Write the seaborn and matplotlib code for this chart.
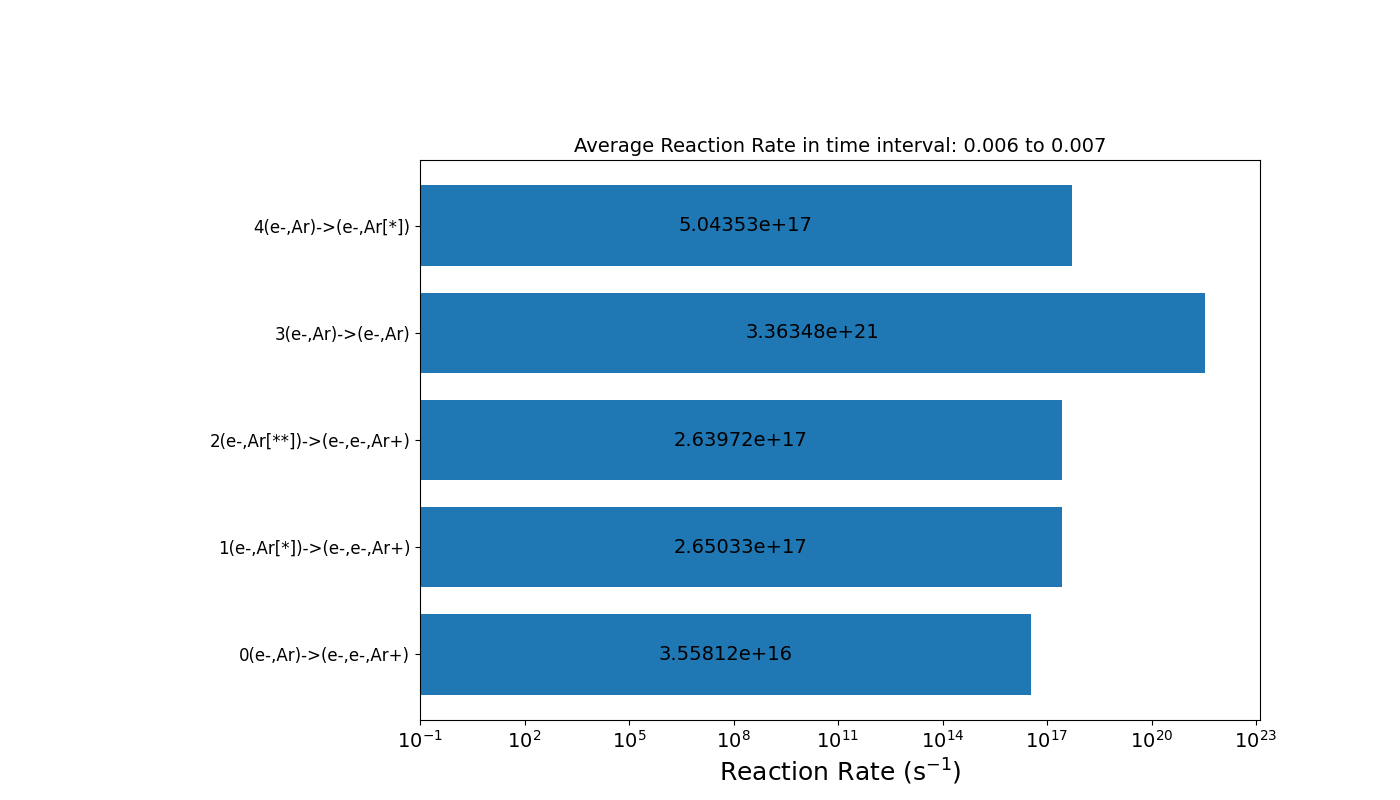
import pandas as pd
import matplotlib.pyplot as plt
import seaborn as sns
from matplotlib.ticker import LogLocator, NullLocator

# Reaction labels and average rates (s^-1)
reactions = ['0(e-,Ar)->(e-,e-,Ar+)', '1(e-,Ar[*])->(e-,e-,Ar+)',
             '2(e-,Ar[**])->(e-,e-,Ar+)', '3(e-,Ar)->(e-,Ar)', '4(e-,Ar)->(e-,Ar[*])']
rates = [3.55812e+16, 2.65033e+17, 2.63972e+17, 3.36348e+21, 5.04353e+17]

df = pd.DataFrame({'Reaction': reactions, 'Rate': rates})

sns.set_style('ticks')
plt.rcParams['font.family'] = ['DejaVu Sans']
plt.rcParams['text.color'] = 'black'
plt.rcParams['axes.labelcolor'] = 'black'
plt.rcParams['xtick.color'] = 'black'
plt.rcParams['ytick.color'] = 'black'

fig = plt.figure(figsize=(14, 8), dpi=100)
ax = fig.add_axes([0.3, 0.1, 0.6, 0.7])

# first reaction at the bottom (seaborn puts first category on top)
order = reactions[::-1]
sns.barplot(data=df, x='Rate', y='Reaction', order=order, orient='h',
            color='#1f77b4', saturation=1, width=0.75, linewidth=0, ax=ax)
ax.set_xscale('log')
ax.set_xlim(0.1, 1.3e23)
ax.set_ylim(4.6125, -0.6125)

# put value text at the geometric middle of each bar
for i, r in enumerate(order):
    v = df.loc[df['Reaction'] == r, 'Rate'].iloc[0]
    ax.text((0.1 * v) ** 0.5, i, f'{v:g}', ha='center', va='center', fontsize=14)

ax.xaxis.set_major_locator(LogLocator(base=10, numticks=9))
ax.xaxis.set_minor_locator(NullLocator())
ax.tick_params(axis='x', labelsize=14)
ax.tick_params(axis='y', labelsize=12)
ax.set_xlabel('Reaction Rate (s$^{-1}$)', fontsize=18)
ax.set_ylabel('')
ax.set_title('Average Reaction Rate in time interval: 0.006 to 0.007', fontsize=14)
for s in ax.spines.values():
    s.set_visible(True)
    s.set_color('black')
    s.set_linewidth(0.8)

fig.savefig('out.png', dpi=100)
